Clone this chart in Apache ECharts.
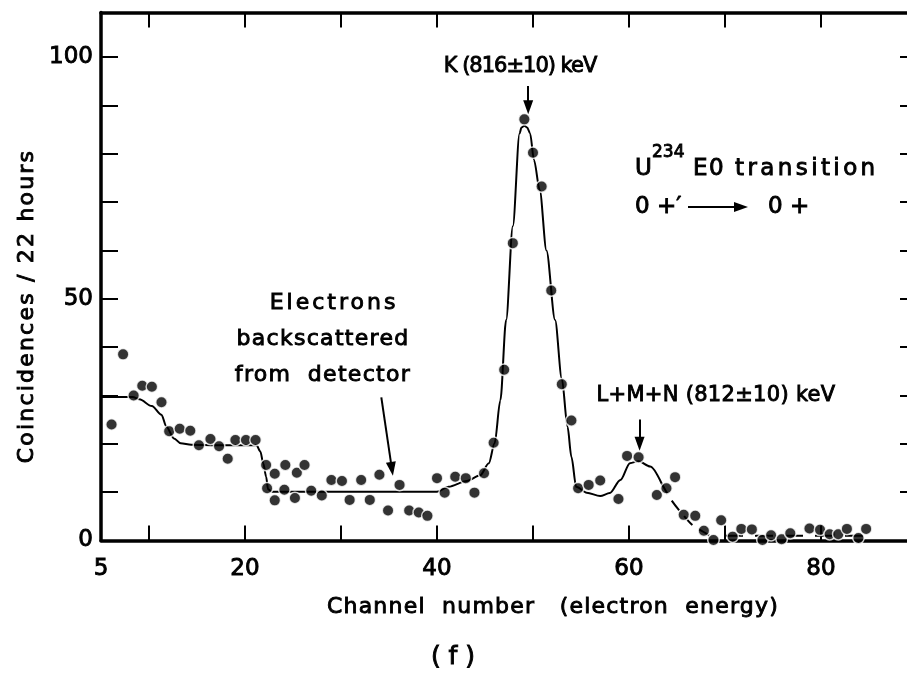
<!DOCTYPE html>
<html>
<head>
<meta charset="utf-8">
<script src="https://cdn.jsdelivr.net/npm/echarts@6/dist/echarts.min.js"></script>
<style>
  html, body { margin: 0; padding: 0; background: #fff; overflow: hidden; width: 907px; height: 688px; }
  /* the frame's right edge runs just past the page edge */
  #chart { width: 925px; height: 688px; }
</style>
</head>
<body>
<div id="chart"></div>
<script>
// Measured coincidence counts per channel
const channels = [6.1, 7.3, 8.4, 9.3, 10.3, 11.3, 12.1, 13.2, 14.3, 15.2, 16.4, 17.3, 18.2, 19.0, 20.1, 21.1,
  22.2, 22.3, 23.1, 23.1, 24.2, 24.1, 25.2, 25.4, 26.2, 26.9, 28.0, 29.0, 30.1, 30.9, 32.1, 33.0, 34.0, 34.9,
  36.1, 37.1, 38.1, 39.0, 40.0, 40.8, 41.9, 43.0, 43.9, 44.9, 45.9, 47.0, 47.9, 49.1, 50.0, 50.9, 51.9, 53.0,
  54.0, 54.7, 55.8, 57.0, 58.9, 59.8, 61.0, 62.9, 63.9, 64.8, 65.7, 66.9, 67.8, 68.8, 69.6, 70.8, 71.7, 72.8,
  73.9, 74.8, 75.9, 76.8, 78.8, 79.9, 80.9, 81.8, 82.7, 83.9, 84.7];
const counts = [24, 38.5, 30, 32, 31.8, 28.6, 22.6, 23.1, 22.7, 19.7, 21.0, 19.5, 16.9, 20.8, 20.8, 20.8,
  15.6, 10.8, 13.8, 8.3, 15.6, 10.5, 8.8, 14.0, 15.6, 10.3, 9.3, 12.5, 12.3, 8.4, 12.5, 8.4, 13.6, 6.2,
  11.5, 6.2, 5.8, 5.1, 12.9, 9.9, 13.2, 12.9, 9.9, 13.9, 20.2, 35.3, 61.5, 87.1, 80.2, 73.2, 51.7, 32.3,
  24.8, 10.8, 11.5, 12.4, 8.6, 17.5, 17.2, 9.4, 10.8, 13.1, 5.3, 5.1, 2.0, 0.1, 4.2, 0.8, 2.4, 2.3,
  0.1, 1.1, 0.25, 1.5, 2.5, 2.2, 1.3, 1.3, 2.4, 0.5, 2.4];

// Hand-drawn fit through the spectrum
const fitChannels = [5, 8.3, 9.0, 10.3, 11.3, 11.8, 12.6, 13.3, 14.4, 17, 21.2, 21.6, 21.9, 22.2, 22.4, 22.8,
  30, 40, 41.2, 43.1, 44.5, 45.4, 46.0, 46.6, 47.2, 47.9, 48.6, 48.8, 49.1, 49.4, 49.7, 50.1, 50.7, 51.4,
  52.3, 53.0, 53.6, 54.0, 54.5, 55.6, 57, 58, 59.1, 60.1, 61.0, 62.2, 63.4];
const fitCounts = [29.7, 29.7, 29.2, 27.8, 26.0, 23.6, 21.1, 20.1, 19.8, 19.7, 19.7, 18.4, 16, 13.2, 10.6, 10.1,
  10.1, 10.1, 11.1, 12.3, 13.5, 16, 20.1, 29, 45.6, 65, 84.2, 85.4, 85.8, 85.4, 84.2, 78.7, 72.5, 60,
  45.6, 33.5, 23.5, 17.3, 11.1, 9.9, 9.2, 9.8, 12.5, 16, 16.4, 15.3, 11.8];

// Dashed fall-off after the L+M+N line and the flat background beyond it
const fallChannels = [63.4, 64.4, 65.5, 66.6, 68, 69];
const fallCounts = [11.8, 8.4, 5.6, 3.2, 1.5, 0];
const baseChannels = [70, 85];
const baseCounts = [1, 1];

// Axis ticks and labels
const xTickValues = [10, 20, 30, 40, 50, 60, 70, 80];
const xLabelValues = [5, 20, 40, 60, 80];
const yTickValues = [0, 10, 20, 30, 40, 50, 60, 70, 80, 90, 100];
const yLabelValues = [0, 50, 100];

const FONT = '"DejaVu Sans", sans-serif';
const INK = '#000';
const zip = (xs, ys) => xs.map((x, i) => [x, ys[i]]);

// Open, typewriter-like lettering for the captions (px of extra space per glyph)
const LETTER_SPACING = {
  'Coincidences / 22 hours': 2.2,
  'Channel  number   (electron  energy)': 1.2,
  'K (816±10) keV': -1.0,
  'L+M+N (812±10) keV': 0.3,
  'Electrons': 3.0,
  'backscattered': 1.3,
  'from  detector': 1.3,
  'transition': 3.4,
  'E0': 1.5
};
['fillText', 'strokeText'].forEach(fn => {
  const base = CanvasRenderingContext2D.prototype[fn];
  CanvasRenderingContext2D.prototype[fn] = function (text, x, y, maxWidth) {
    this.letterSpacing = (LETTER_SPACING[text] || 0) + 'px';
    return maxWidth === undefined ? base.call(this, text, x, y) : base.call(this, text, x, y, maxWidth);
  };
});

const X_MIN = 5, X_MAX = 90, Y_MIN = 0, Y_MAX = 109.2;
const TEXT_WEIGHT = 0.9;

const tickLabel = (values, margin) => ({
  show: true, customValues: values, color: INK, fontFamily: FONT, fontSize: 23, margin,
  textBorderColor: INK, textBorderWidth: TEXT_WEIGHT
});

function xAxisDef(position, labels) {
  return {
    type: 'value', position, min: X_MIN, max: X_MAX,
    axisLine: { show: true, onZero: false, lineStyle: { color: INK, width: 3.5 } },
    axisTick: { show: true, inside: true, length: 15, customValues: xTickValues, lineStyle: { color: INK, width: 2 } },
    axisLabel: labels ? tickLabel(xLabelValues, 17) : { show: false },
    splitLine: { show: false }
  };
}
function yAxisDef(position, labels) {
  return {
    type: 'value', position, min: Y_MIN, max: Y_MAX,
    axisLine: { show: true, onZero: false, lineStyle: { color: INK, width: 3.5 } },
    axisTick: { show: true, inside: true, length: 17, customValues: yTickValues, lineStyle: { color: INK, width: 2 } },
    axisLabel: labels ? tickLabel(yLabelValues, 8) : { show: false },
    splitLine: { show: false }
  };
}

const arrowLine = (from, to) => [{ coord: from }, { coord: to }];

const chart = echarts.init(document.getElementById('chart'), null, { renderer: 'canvas' });
chart.setOption({
  animation: false,
  backgroundColor: '#fff',
  grid: { left: 101, right: 8, top: 12.5, bottom: 147.5 },
  xAxis: [xAxisDef('bottom', true), xAxisDef('top', false)],
  yAxis: [yAxisDef('left', true), yAxisDef('right', false)],
  series: [
    {
      type: 'line', name: 'fit', data: zip(fitChannels, fitCounts),
      smooth: 0.3, smoothMonotone: 'x', showSymbol: false, silent: true, z: 2,
      lineStyle: { color: INK, width: 2 },
      markLine: {
        silent: true, animation: false,
        symbol: ['none', 'triangle'], symbolSize: [10, 14],
        label: { show: false },
        lineStyle: { color: INK, width: 2, type: 'solid' },
        emphasis: { disabled: true },
        data: [
          arrowLine([49.5, 94.0], [49.5, 89.6]),
          arrowLine([61.1, 25.0], [61.1, 20.0]),
          arrowLine([34.2, 29.6], [35.3, 14.8])
        ]
      }
    },
    {
      type: 'line', name: 'fall', data: zip(fallChannels, fallCounts),
      smooth: 0.3, showSymbol: false, silent: true, z: 2,
      lineStyle: { color: INK, width: 2, type: [12, 8] }
    },
    {
      type: 'line', name: 'background', data: zip(baseChannels, baseCounts),
      showSymbol: false, silent: true, z: 2,
      lineStyle: { color: INK, width: 2, type: [18, 12] }
    },
    {
      type: 'scatter', name: 'counts', data: zip(channels, counts),
      symbol: 'circle', symbolSize: 11.5, silent: true, z: 3,
      itemStyle: { color: INK, borderColor: '#fff', borderWidth: 1.5 }
    }
  ]
});

// Text annotations
const txt = (text, x, y, size, align, extra) => Object.assign({
  type: 'text', x, y, silent: true, z: 10,
  style: {
    text, fill: INK, stroke: INK, lineWidth: TEXT_WEIGHT,
    font: size + 'px ' + FONT, align: align || 'center', verticalAlign: 'middle'
  }
}, extra || {});

chart.setOption({
  graphic: [
    txt('Coincidences / 22 hours', 27, 306, 22, 'center', { rotation: Math.PI / 2 }),
    txt('Channel  number   (electron  energy)', 553, 607, 22),
    txt('( f )', 453, 657, 25),
    txt('K (816±10) keV', 520, 67, 21),
    txt('L+M+N (812±10) keV', 716, 396, 21),
    txt('Electrons', 334, 303, 22),
    txt('backscattered', 323, 339, 22),
    txt('from  detector', 323, 375, 22),
    txt('U', 635, 169, 23, 'left'),
    txt('234', 652, 153, 17, 'left'),
    txt('E0', 693, 169, 23, 'left'),
    txt('transition', 735, 169, 23, 'left'),
    txt('0 +′', 635, 207, 23, 'left'),
    { type: 'line', silent: true, z: 10, shape: { x1: 688, y1: 207, x2: 738, y2: 207 }, style: { stroke: INK, lineWidth: 2 } },
    { type: 'polygon', silent: true, z: 10, shape: { points: [[734, 202], [748, 207], [734, 212]] }, style: { fill: INK } },
    txt('0 +', 768, 207, 23, 'left')
  ]
});
</script>
</body>
</html>
